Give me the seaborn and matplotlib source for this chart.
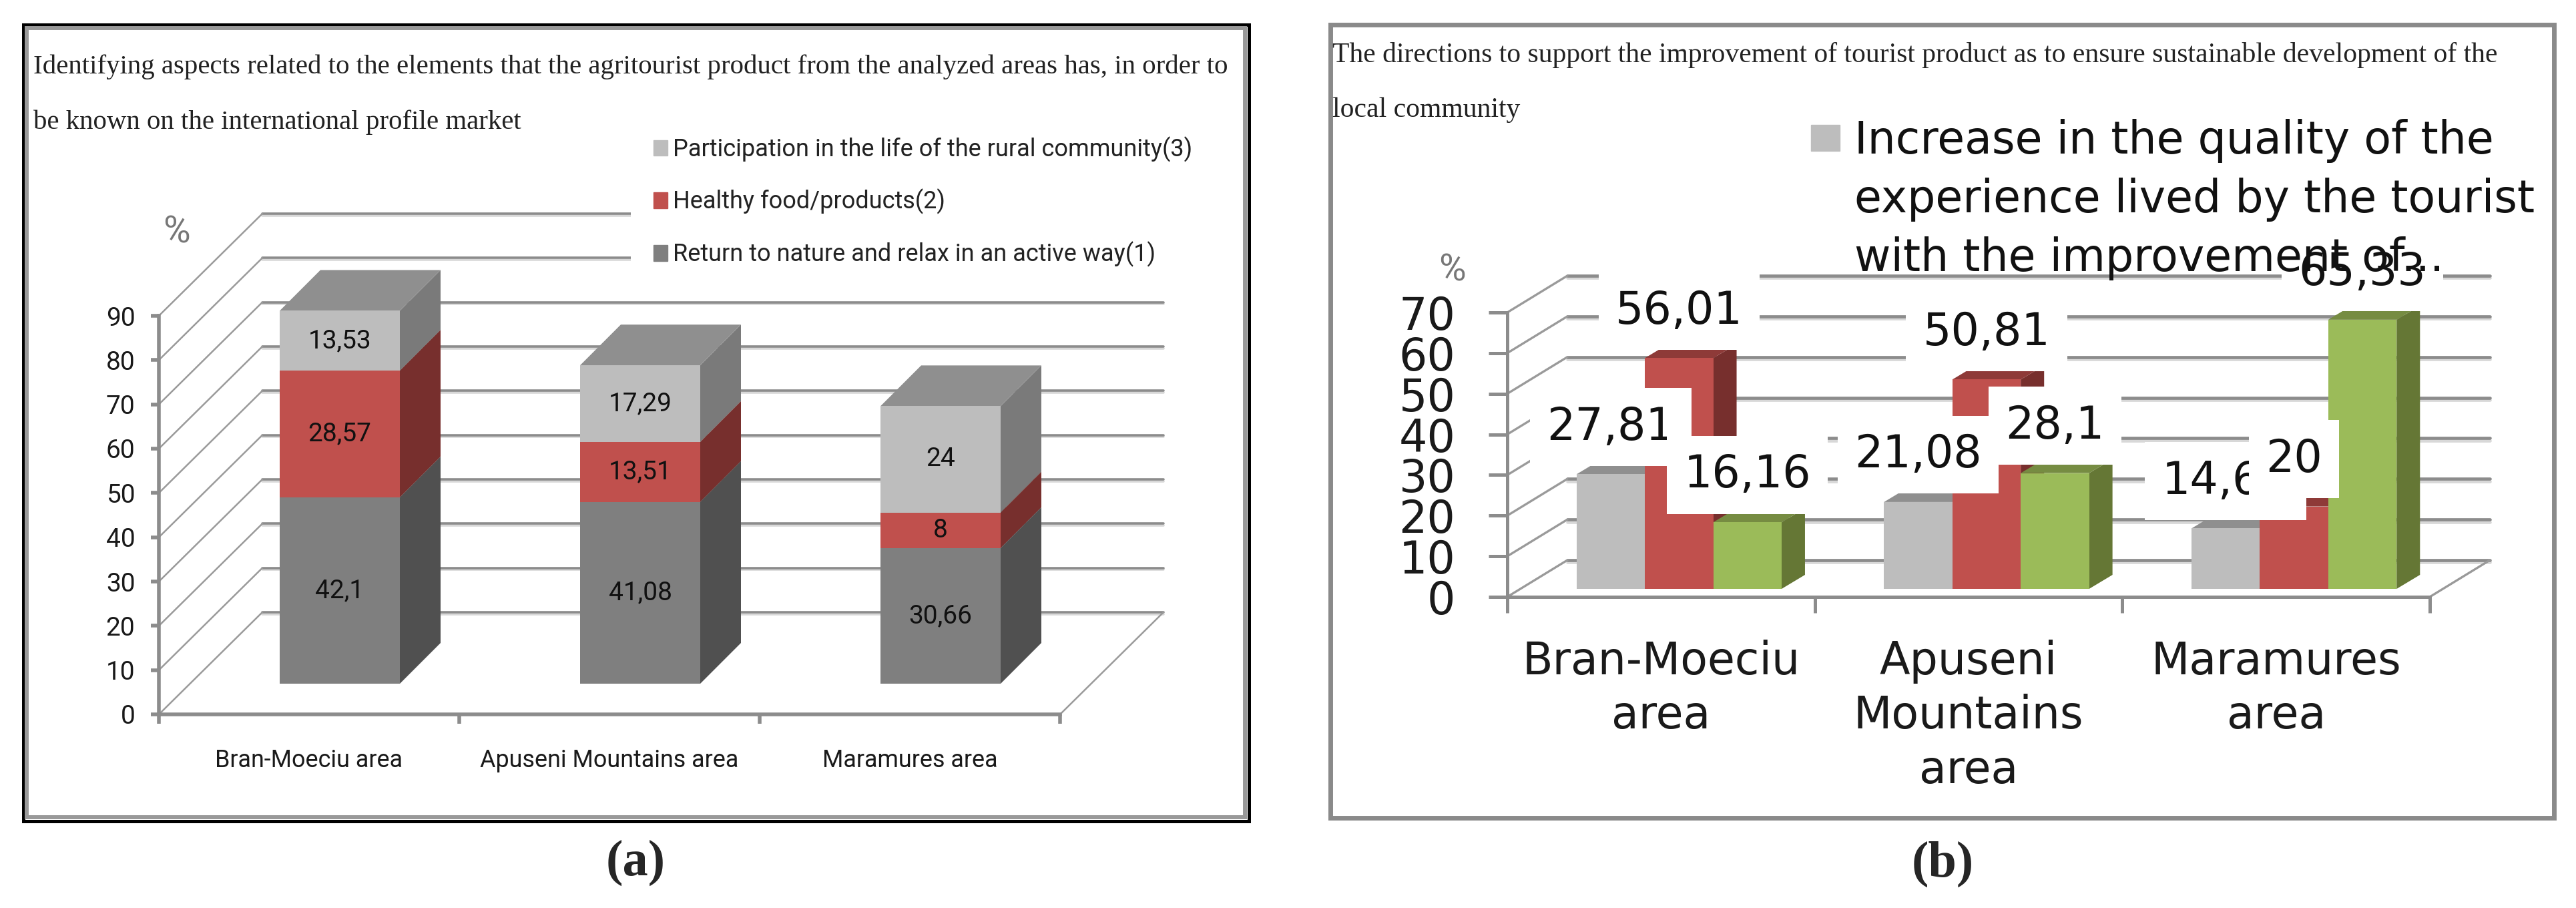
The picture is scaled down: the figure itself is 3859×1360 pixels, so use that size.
"""
Two pseudo-3D bar panels (agritourist product survey, areas compared).

seaborn draws the front faces, the depth faces and wall are added on top
of those bars through pixel offsets read from the display transform.
"""

import matplotlib.pyplot as plt
import numpy as np
import pandas as pd
import seaborn as sns
from matplotlib.patches import Patch, Polygon, Rectangle
from matplotlib.transforms import IdentityTransform

# ─── Data ───
AREAS = ["Bran-Moeciu area", "Apuseni Mountains area", "Maramures area"]
AREAS_WRAPPED = ["Bran-Moeciu\narea", "Apuseni\nMountains\narea", "Maramures\narea"]

SERIES_A = [
    "Return to nature and relax in an active way(1)",
    "Healthy food/products(2)",
    "Participation in the life of the rural community(3)",
]
RETURN_NATURE = [42.1, 41.08, 30.66]
HEALTHY_FOOD = [28.57, 13.51, 8]
PARTICIPATION = [13.53, 17.29, 24]

SERIES_B = ["Increase in the quality", "Second direction", "Third direction"]
QUALITY = [27.81, 21.08, 14.67]
SECOND = [56.01, 50.81, 20]
THIRD = [16.16, 28.1, 65.33]

LEGEND_B = [
    "Increase in the quality of the",
    "experience lived by the tourist",
    "with the improvement of...",
]

TITLE_A = [
    "Identifying aspects related to the elements that the agritourist product from the analyzed areas has, in order to",
    "be known on the international profile market",
]
TITLE_B = [
    "The directions to support the improvement of tourist product as to ensure sustainable development of the",
    "local community",
]

TICKS_A = list(range(0, 100, 10))
TICKS_B = list(range(0, 80, 10))

# ─── Style ───
W, H = 3859, 1360
NARROW = ["Roboto"]
SERIF = ["Liberation Serif"]
SANS = ["DejaVu Sans"]

LIGHT = "#BDBDBD"
RED = "#C0504D"
GREEN = "#9BBB59"
DARK = "#7F7F7F"
FACES_A = [("#505050", "#6a6a6a"), ("#772F2D", "#8E3A38"), ("#7A7A7A", "#8F8F8F")]
FACES_B = [("#7A7A7A", "#8F8F8F"), ("#772F2D", "#8E3A38"), ("#657735", "#768C42")]
AXIS_GREY = "#8C8C8C"


def fmt(value):
    return f"{value:g}".replace(".", ",")


def px_axes(fig, left, right, bottom, top):
    # axes from pixel positions measured top-down
    return fig.add_axes([left / W, (H - bottom) / H, (right - left) / W, (bottom - top) / H])


def add_depth(ax, dx, dy, faces):
    to_px = ax.transData.transform
    items = []
    for container, (side, top) in zip(ax.containers, faces):
        for bar in container:
            bar.set_zorder(2)
            items.append((bar, side, top))
    for bar, side, top in sorted(items, key=lambda t: t[0].get_x()):
        x0, y0 = to_px((bar.get_x(), bar.get_y()))
        x1, y1 = to_px((bar.get_x() + bar.get_width(), bar.get_y() + bar.get_height()))
        for pts, colour in (
            ([(x1, y0), (x1 + dx, y0 + dy), (x1 + dx, y1 + dy), (x1, y1)], side),
            ([(x0, y1), (x0 + dx, y1 + dy), (x1 + dx, y1 + dy), (x1, y1)], top),
        ):
            ax.add_patch(Polygon(pts, closed=True, fc=colour, ec="none", zorder=1.5,
                                 transform=IdentityTransform(), clip_on=False))


def draw_wall(ax, ticks, dx, dy, grid_lw, slant_lw):
    to_px = ax.transData.transform
    n = len(AREAS)
    ident = IdentityTransform()
    for v in ticks:
        x0, y0 = to_px((0, v))
        x1, _ = to_px((n, v))
        ax.plot([x0 + dx, x1 + dx], [y0 + dy - grid_lw, y0 + dy - grid_lw], color="#d8d8d8",
                lw=grid_lw, transform=ident, clip_on=False, zorder=1)
        ax.plot([x0 + dx, x1 + dx], [y0 + dy, y0 + dy], color=AXIS_GREY, lw=grid_lw,
                transform=ident, clip_on=False, zorder=1.1)
        ax.plot([x0, x0 + dx], [y0, y0 + dy], color="#9a9a9a", lw=slant_lw,
                transform=ident, clip_on=False, zorder=1.1)
    x1, y1 = to_px((n, 0))
    ax.plot([x1, x1 + dx], [y1, y1 + dy], color="#9a9a9a", lw=slant_lw,
            transform=ident, clip_on=False, zorder=1.1)


def style_wall(ax, ticks, labels, lw, tick_len, x_tick_len, size, x_size, family, ypad, xpad):
    sns.despine(ax=ax)
    ax.patch.set_visible(False)
    ax.set_xlim(0, len(labels))
    ax.set_ylim(ticks[0], ticks[-1])
    ax.set_yticks(ticks)
    ax.set_xticks(range(len(labels) + 1))
    ax.set_xticklabels([])
    ax.set_xticks([i + 0.5 for i in range(len(labels))], labels=labels, minor=True)
    ax.tick_params(axis="y", length=tick_len, width=lw, color=AXIS_GREY, pad=ypad, labelsize=size)
    ax.tick_params(axis="x", which="major", length=x_tick_len, width=lw, color=AXIS_GREY)
    ax.tick_params(axis="x", which="minor", length=0, pad=xpad, labelsize=x_size)
    for lab in ax.get_yticklabels() + ax.get_xticklabels(minor=True):
        lab.set_family(family)
        lab.set_color("#1a1a1a")
    for name in ("left", "bottom"):
        ax.spines[name].set_color(AXIS_GREY)
        ax.spines[name].set_linewidth(lw)


def panel_a(fig):
    wall = px_axes(fig, 238, 1588, 1070, 473)
    style_wall(wall, TICKS_A, AREAS, 4, 8.6, 10, 28, 25.8, NARROW, 17, 37)
    draw_wall(wall, TICKS_A, 155, 153, 2.6, 1.8)

    ax = px_axes(fig, 284, 1634, 1024, 427)
    base = np.zeros(len(AREAS))
    for name, values, colour in zip(SERIES_A, (RETURN_NATURE, HEALTHY_FOOD, PARTICIPATION),
                                    (DARK, RED, LIGHT)):
        sns.barplot(x=AREAS, y=values, bottom=base, color=colour, width=0.4, saturation=1,
                    errorbar=None, label=name, linewidth=0, ax=ax)
        base = base + np.array(values)
    ax.set_xlim(-0.5, 2.5)
    ax.set_ylim(0, 90)
    ax.axis("off")
    add_depth(ax, 61, 61, FACES_A)
    for container, values in zip(ax.containers, (RETURN_NATURE, HEALTHY_FOOD, PARTICIPATION)):
        ax.bar_label(container, labels=[fmt(v) for v in values], label_type="center",
                     family=NARROW, fontsize=28, color="#111111", zorder=4)

    handles = [Patch(color=c) for c in (LIGHT, RED, DARK)]
    labels = SERIES_A[::-1]
    leg = ax.legend(handles, labels, loc="upper left", bbox_to_anchor=(945, H - 170),
                    bbox_transform=IdentityTransform(), borderaxespad=0, borderpad=0.95,
                    frameon=True, facecolor="white", edgecolor="none", framealpha=1, fancybox=False,
                    prop={"family": NARROW, "size": 26}, labelspacing=1.12, handlelength=0.56,
                    handleheight=0.62, handletextpad=0.24, labelcolor="#222222")
    leg.set_zorder(6)


def panel_b(fig):
    wall = px_axes(fig, 2258, 3640, 894, 468)
    style_wall(wall, TICKS_B, AREAS_WRAPPED, 3.6, 20, 17, 48, 48, SANS, 36, 46)
    for lab in wall.get_xticklabels(minor=True):
        lab.set_linespacing(1.3)
    draw_wall(wall, TICKS_B, 90, 55, 3.4, 2.4)

    ax = px_axes(fig, 2285, 3667, 882, 450)
    table = pd.DataFrame({
        "area": AREAS_WRAPPED * 3,
        "series": [s for s in SERIES_B for _ in AREAS_WRAPPED],
        "value": QUALITY + SECOND + THIRD,
    })
    sns.barplot(data=table, x="area", y="value", hue="series", hue_order=SERIES_B,
                palette=[LIGHT, RED, GREEN], width=0.667, gap=0, saturation=1,
                errorbar=None, legend=False, linewidth=0, ax=ax)
    ax.set_xlim(-0.5, 2.5)
    ax.set_ylim(0, 70)
    ax.axis("off")
    add_depth(ax, 35, 21, FACES_B)

    for container, values in zip(ax.containers, (QUALITY, SECOND, THIRD)):
        for bar, v in zip(container, values):
            ax.annotate(fmt(v), xy=(bar.get_x() + bar.get_width() / 2, bar.get_height()),
                        xytext=(0, 51), textcoords="offset points", ha="center", va="center",
                        family=SANS, fontsize=48, color="#111111", annotation_clip=False, zorder=3,
                        bbox=dict(boxstyle="square,pad=0.38", fc="white", ec="none"))

    handles = [Patch(color=LIGHT), Patch(alpha=0), Patch(alpha=0)]
    leg = ax.legend(handles, LEGEND_B, loc="upper left", bbox_to_anchor=(2713, H - 178),
                    bbox_transform=IdentityTransform(), borderaxespad=0, borderpad=0, frameon=False,
                    prop={"family": SANS, "size": 48}, labelspacing=0.33, handlelength=0.64,
                    handleheight=0.52, handletextpad=0.33, labelcolor="#111111")
    leg.set_zorder(6)


def main():
    sns.set_theme(style="ticks")
    plt.rcParams["font.family"] = SANS

    fig = plt.figure(figsize=(W / 100, H / 100), dpi=100, facecolor="white")

    # pixel canvas behind both panels: frames, titles, captions
    bg = fig.add_axes([0, 0, 1, 1])
    bg.set_xlim(0, W)
    bg.set_ylim(H, 0)
    bg.axis("off")
    bg.add_patch(Rectangle((32, 34), 1841, 1198, fc="white", ec="black", lw=0))
    bg.add_patch(Rectangle((34.5, 36.5), 1836, 1193, fc="none", ec="black", lw=3.6))
    bg.add_patch(Rectangle((40, 42), 1825, 1182, fc="none", ec="#999999", lw=4.3))
    bg.add_patch(Rectangle((1992.5, 36.5), 1833, 1188, fc="white", ec="#8A8A8A", lw=5))

    for text, y in zip(TITLE_A, (100, 183)):
        bg.text(50, y, text, family=SERIF, fontsize=29.4, va="center", color="#222222")
    for text, y in zip(TITLE_B, (83, 165)):
        bg.text(1996, y, text, family=SERIF, fontsize=30, va="center", color="#222222")
    bg.text(264, 348, "%", family=NARROW, fontsize=40, ha="center", va="center",
            rotation=0, color="#777777")
    bg.text(2175, 405, "%", family=NARROW, fontsize=40, ha="center", va="center",
            color="#777777")
    bg.text(952, 1292, "(a)", family=SERIF, fontsize=55, fontweight="bold", ha="center", va="center")
    bg.text(2910, 1294, "(b)", family=SERIF, fontsize=55, fontweight="bold", ha="center", va="center")

    panel_a(fig)
    panel_b(fig)

    fig.savefig("out.png", dpi=100)
    plt.close(fig)


if __name__ == "__main__":
    main()
